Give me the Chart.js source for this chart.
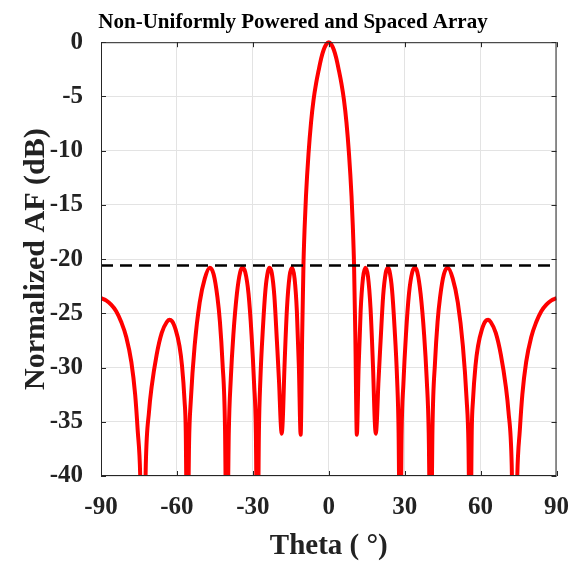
<!DOCTYPE html>
<html>
<head>
<meta charset="utf-8">
<script src="https://cdn.jsdelivr.net/npm/chart.js@4/dist/chart.umd.min.js"></script>
<style>
  body { margin: 0; background: #fff; }
  #wrap { width: 586px; height: 564px; position: relative; }
</style>
</head>
<body>
<div id="wrap"><canvas id="afChart"></canvas></div>
<script>
// values
const theta = [
  -90, -88, -86, -84, -82, -80, -78, -76.5, -75.5, -74.5, -73.4, -72.3, -71, -70, -68, -66, -64, -63, -62,
  -60.5, -59, -58, -57, -56.5, -55.9, -55.2, -54.5, -53, -51, -49, -47, -45.5, -44, -43, -42, -41, -40.3,
  -39.5, -38.7, -37.7, -36.3, -35, -34.1, -33, -31.7, -30.5, -29.5, -28.8, -28.2, -27.6, -27, -26, -25,
  -24, -23.4, -22.5, -21.5, -20.5, -19.6, -19, -18.6, -18.2, -17.5, -16.5, -15.5, -14.5, -13.5, -12.6,
  -11.8, -11.1, -10.5, -10, -9.5, -9, -8, -7, -6, -5, -4, -3, -2, -1, 0,
  1, 2, 3, 4, 5, 6, 7, 8, 9, 9.5, 10, 10.5, 11.1, 11.8, 12.6, 13.5, 14.5, 15.5, 16.5, 17.5, 18.2, 18.6,
  19, 19.6, 20.5, 21.5, 22.5, 23.4, 24, 25, 26, 27, 27.6, 28.2, 28.8, 29.5, 30.5, 31.7, 33, 34.1, 35,
  36.3, 37.7, 38.7, 39.5, 40.3, 41, 42, 43, 44, 45.5, 47, 49, 51, 53, 54.5, 55.2, 55.9, 56.5, 57, 58, 59,
  60.5, 62, 63, 64, 66, 68, 70, 71, 72.3, 73.4, 74.5, 75.5, 76.5, 78, 80, 82, 84, 86, 88, 90
];
const afDb = [
  -23.6, -23.8, -24.2, -24.8, -25.8, -27.2, -29.5, -32.5, -35.8, -40, -55, -39, -34, -31.8, -28.8, -26.8, -25.8, -25.6, -25.7,
  -26.5, -28, -29.8, -33, -36, -50, -37, -33, -28, -24, -21.8, -20.8, -21.4, -23.5, -25.8, -29.5, -35.5, -50,
  -36, -31, -27, -23.2, -21.2, -20.8, -21.2, -23.2, -27, -31.5, -36, -50, -36, -31, -26.3, -22.8,
  -21.1, -20.8, -21.3, -23.4, -27.5, -31.5, -35, -36.1, -35, -30, -24.5, -21.6, -20.8, -21.8, -24.8,
  -30, -36.2, -27, -20.6, -16.9, -14.2, -10.3, -7.4, -5.3, -3.8, -2.6, -1.5, -0.7, -0.2, 0,
  -0.2, -0.7, -1.5, -2.6, -3.8, -5.3, -7.4, -10.3, -14.2, -16.9, -20.6, -27, -36.2, -30, -24.8, -21.8, -20.8, -21.6, -24.5, -30, -35, -36.1,
  -35, -31.5, -27.5, -23.4, -21.3, -20.8, -21.1, -22.8, -26.3, -31, -36, -50, -36, -31.5, -27, -23.2, -21.2, -20.8, -21.2,
  -23.2, -27, -31, -36, -50, -35.5, -29.5, -25.8, -23.5, -21.4, -20.8, -21.8, -24, -28, -33, -37, -50, -36, -33, -29.8, -28,
  -26.5, -25.7, -25.6, -25.8, -26.8, -28.8, -31.8, -34, -39, -55, -40, -35.8, -32.5, -29.5, -27.2, -25.8, -24.8, -24.2, -23.8, -23.6
];
const sllTheta = [-90, 90];
const sllDb = [-20.6, -20.6];
const xTicks = [-90, -60, -30, 0, 30, 60, 90];
const yTicks = [0, -5, -10, -15, -20, -25, -30, -35, -40];

const serif = '"Liberation Serif", "Times New Roman", serif';

const frame = {
  id: 'frame',
  afterDraw(chart) {
    const { ctx, chartArea: a, scales: { x, y } } = chart;
    ctx.save();
    ctx.strokeStyle = '#262626';
    ctx.lineWidth = 1;
    ctx.strokeRect(a.left + 0.5, a.top + 0.5, a.right - a.left - 1, a.bottom - a.top - 1);
    ctx.beginPath();
    xTicks.forEach(v => {
      const p = Math.round(x.getPixelForValue(v)) + 0.5;
      ctx.moveTo(p, a.bottom); ctx.lineTo(p, a.bottom - 5);
      ctx.moveTo(p, a.top); ctx.lineTo(p, a.top + 5);
    });
    yTicks.forEach(v => {
      const p = Math.round(y.getPixelForValue(v)) + 0.5;
      ctx.moveTo(a.left, p); ctx.lineTo(a.left + 5, p);
      ctx.moveTo(a.right, p); ctx.lineTo(a.right - 5, p);
    });
    ctx.stroke();
    ctx.restore();
  }
};

new Chart(document.getElementById('afChart'), {
  type: 'line',
  data: {
    datasets: [
      {
        label: 'SLL',
        data: sllTheta.map((t, i) => ({ x: t, y: sllDb[i] })),
        borderColor: '#000',
        borderWidth: 2.5,
        borderDash: [12, 7],
        pointRadius: 0,
        order: 0
      },
      {
        label: 'AF',
        data: theta.map((t, i) => ({ x: t, y: afDb[i] })),
        borderColor: '#ff0000',
        borderWidth: 4,
        pointRadius: 0,
        cubicInterpolationMode: 'monotone',
        clip: { left: 0, right: 0, top: 4, bottom: 0 },
        order: 1
      }
    ]
  },
  options: {
    responsive: true,
    maintainAspectRatio: false,
    animation: false,
    layout: { padding: { left: 0, right: 0, top: 4, bottom: 0 } },
    plugins: {
      legend: { display: false },
      tooltip: { enabled: false },
      title: {
        display: true,
        text: 'Non-Uniformly Powered and Spaced Array',
        color: '#000',
        font: { family: serif, size: 21, weight: 'bold' },
        padding: { top: 6, bottom: 7 }
      }
    },
    scales: {
      x: {
        type: 'linear',
        min: -90,
        max: 90,
        afterFit: s => { s.height = 88; },
        afterBuildTicks: s => { s.ticks = xTicks.map(v => ({ value: v })); },
        grid: { color: '#e3e3e3', drawTicks: false },
        border: { display: false },
        ticks: { color: '#222', padding: 17, font: { family: serif, size: 25, weight: 'bold' } },
        title: {
          display: true,
          text: 'Theta ( °)',
          color: '#222',
          font: { family: serif, size: 29, weight: 'bold' },
          padding: { top: 0, bottom: 0 }
        }
      },
      y: {
        min: -40,
        max: 0,
        afterFit: s => { s.width = 101; },
        afterBuildTicks: s => { s.ticks = yTicks.map(v => ({ value: v })); },
        grid: { color: '#e3e3e3', drawTicks: false },
        border: { display: false },
        ticks: { color: '#222', padding: 18, font: { family: serif, size: 25, weight: 'bold' } },
        title: {
          display: true,
          text: 'Normalized AF (dB)',
          color: '#222',
          font: { family: serif, size: 30, weight: 'bold' },
          padding: { top: 18, bottom: 0 }
        }
      },
      yRight: {
        position: 'right',
        min: -40,
        max: 0,
        afterFit: s => { s.width = 29; },
        grid: { display: false, drawTicks: false },
        border: { display: false },
        ticks: { display: false }
      }
    }
  },
  plugins: [frame]
});
</script>
</body>
</html>
